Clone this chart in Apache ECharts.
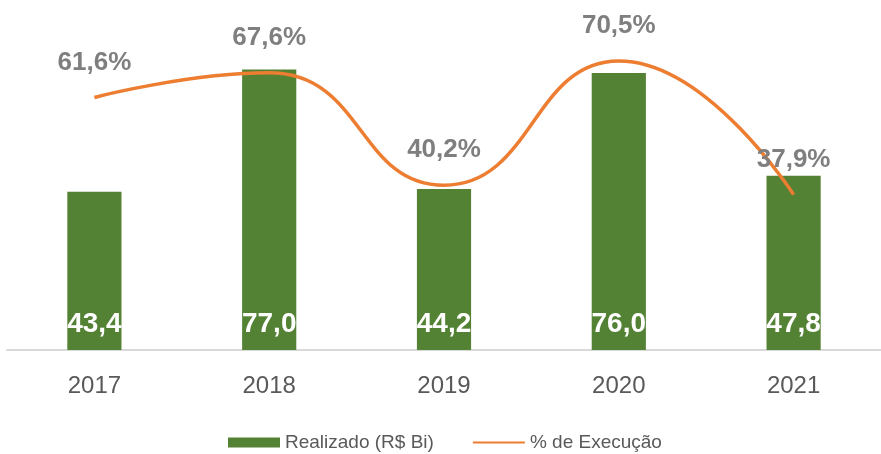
<!DOCTYPE html>
<html>
<head>
<meta charset="utf-8">
<script src="https://cdn.jsdelivr.net/npm/echarts@6/dist/echarts.min.js"></script>
<style>
  html, body { margin: 0; padding: 0; background: #fff; }
  #chart { width: 881px; height: 454px; }
</style>
</head>
<body>
<div id="chart"></div>
<script>
  const years = ['2017', '2018', '2019', '2020', '2021']
  const realizado = [43.4, 77.0, 44.2, 76.0, 47.8]
  const execucao = [61.6, 67.6, 40.2, 70.5, 37.9]

  const fmt = (v, d) => v.toFixed(d).replace('.', ',')

  const chart = echarts.init(document.getElementById('chart'))

  chart.setOption({
    animation: false,
    textStyle: { fontFamily: 'Liberation Sans' },
    grid: { left: 7, top: 22, width: 882, height: 328 },
    legend: {
      left: 223,
      top: 428,
      itemGap: 38,
      itemWidth: 52,
      itemHeight: 10,
      textStyle: { color: '#595959', fontSize: 19 },
      data: [
        { name: 'Realizado (R$ Bi)', icon: 'rect' },
        { name: '% de Execução', itemStyle: { opacity: 0 } }
      ]
    },
    xAxis: {
      type: 'category',
      data: years,
      axisTick: { show: false },
      axisLine: { lineStyle: { color: '#d9d9d9', width: 2 } },
      axisLabel: { color: '#595959', fontSize: 24, margin: 24 }
    },
    yAxis: [
      { type: 'value', min: 0, max: 90, show: false },
      { type: 'value', min: 0, max: 80, show: false }
    ],
    series: [
      {
        name: 'Realizado (R$ Bi)',
        type: 'bar',
        data: realizado,
        barWidth: '31%',
        itemStyle: { color: '#548235' },
        label: {
          show: true,
          position: 'insideBottom',
          distance: 12,
          color: '#fff',
          fontWeight: 'bold',
          fontSize: 28,
          formatter: p => fmt(p.value, 1)
        }
      },
      {
        name: '% de Execução',
        type: 'line',
        yAxisIndex: 1,
        data: execucao,
        smooth: 0.5,
        symbol: 'circle',
        symbolSize: 0,
        lineStyle: { color: '#ed7d31', width: 3.5 },
        itemStyle: { color: '#ed7d31' },
        label: {
          show: true,
          position: 'top',
          distance: 22,
          color: '#7f7f7f',
          fontWeight: 'bold',
          fontSize: 26,
          formatter: p => fmt(p.value, 1) + '%'
        }
      }
    ]
  })
</script>
</body>
</html>
